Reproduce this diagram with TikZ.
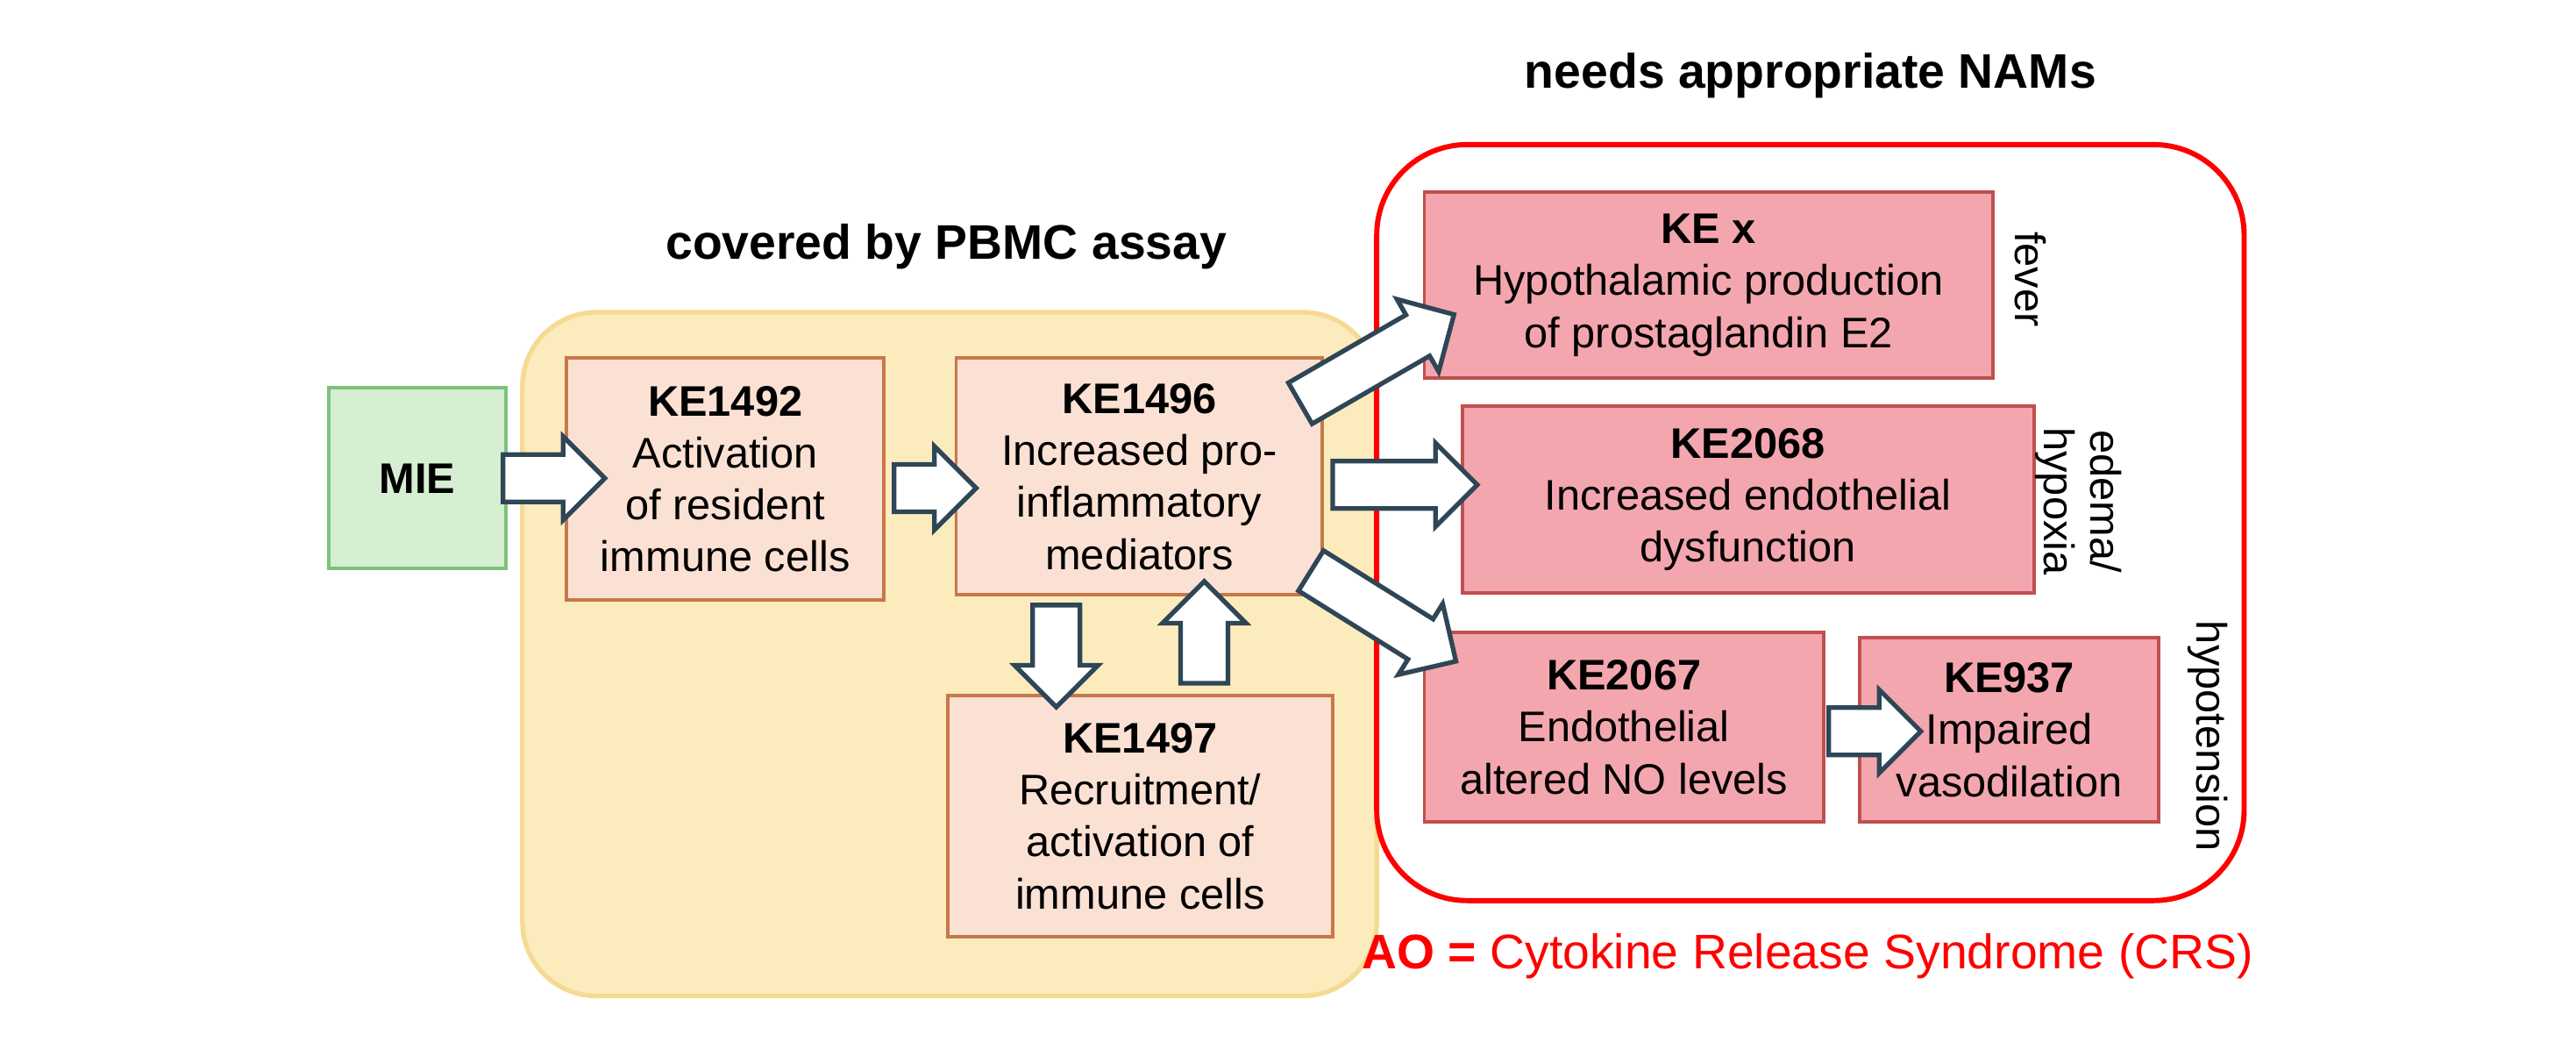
\documentclass[tikz,border=0pt]{standalone}
\usepackage{fontspec}
\setmainfont{Liberation Sans}
\usetikzlibrary{shapes.arrows}
\definecolor{ylfill}{HTML}{FCEBBD}
\definecolor{yldraw}{HTML}{F6DA92}
\definecolor{kefill}{HTML}{FBE1D4}
\definecolor{kedraw}{HTML}{C8774A}
\definecolor{rdfill}{HTML}{F4A6AF}
\definecolor{rddraw}{HTML}{C0504D}
\definecolor{grfill}{HTML}{D6EED2}
\definecolor{grdraw}{HTML}{7DC27A}
\definecolor{arrdraw}{HTML}{2E4656}
\definecolor{aored}{HTML}{FF0000}
\tikzset{
 txt/.style={font=\fontsize{7.4}{9}\selectfont, align=center},
 barrow/.style={single arrow, draw=arrdraw, fill=white, line width=0.8pt, inner sep=0.13cm, single arrow head extend=0.11cm, minimum width=0.5cm, shape border uses incircle=false},
}
\begin{document}
\begin{tikzpicture}[x=0.01cm,y=-0.01cm]
\useasboundingbox (0,0) rectangle (1568,634);
\fill[white] (0,0) rectangle (1568,634);
% containers
\draw[draw=yldraw, fill=ylfill, line width=0.8pt, rounded corners=0.45cm] (318,190) rectangle (838,606);
\draw[draw=aored, line width=0.9pt, rounded corners=0.55cm] (838,88) rectangle (1366,548);
% titles
\node[txt, font=\fontsize{8.4}{10}\selectfont\bfseries] (t1) at (576,150) {covered by PBMC assay};
\node[txt, font=\fontsize{8.4}{10}\selectfont\bfseries] (t2) at (1102,46) {needs appropriate NAMs};
\node[txt, font=\fontsize{8.4}{10}\selectfont, text=aored, anchor=east] (ao) at (1384,582) {\textbf{AO =} Cytokine Release Syndrome (CRS)};
% boxes
\draw[draw=grdraw, fill=grfill, line width=0.6pt] (200,236) rectangle (308,346);
\node[txt, font=\fontsize{7.4}{9}\selectfont\bfseries] (mie) at (254,291) {MIE};
\draw[draw=kedraw, fill=kefill, line width=0.6pt] (345,218) rectangle (538,365);
\node[txt] (k1492) at (441.5,291.5) {\textbf{KE1492}\\Activation\\of resident\\immune cells};
\draw[draw=kedraw, fill=kefill, line width=0.6pt] (582,218) rectangle (805,362);
\node[txt] (k1496) at (693.5,290) {\textbf{KE1496}\\Increased pro-\\inflammatory\\mediators};
\draw[draw=kedraw, fill=kefill, line width=0.6pt] (577,423) rectangle (811,570);
\node[txt] (k1497) at (694,496.5) {\textbf{KE1497}\\Recruitment/\\activation of\\immune cells};
\draw[draw=rddraw, fill=rdfill, line width=0.6pt] (867,117) rectangle (1213,230);
\node[txt] (kex) at (1040,173.5) {\textbf{KE x}\\Hypothalamic production\\of prostaglandin E2};
\draw[draw=rddraw, fill=rdfill, line width=0.6pt] (890,247) rectangle (1238,361);
\node[txt] (k2068) at (1064,304) {\textbf{KE2068}\\Increased endothelial\\dysfunction};
\draw[draw=rddraw, fill=rdfill, line width=0.6pt] (867,385) rectangle (1110,500);
\node[txt] (k2067) at (988.5,442.5) {\textbf{KE2067}\\Endothelial\\altered NO levels};
\draw[draw=rddraw, fill=rdfill, line width=0.6pt] (1132,388) rectangle (1314,500);
\node[txt] (k937) at (1223,444) {\textbf{KE937}\\Impaired\\vasodilation};
% side labels
\node[txt, rotate=-90] (fever) at (1236,170) {fever};
\node[txt, rotate=-90, font=\fontsize{7.4}{8}\selectfont] (edema) at (1265,305) {edema/\\hypoxia};
\node[txt, rotate=-90] (hypo) at (1344,448) {hypotension};
% block arrows
\node[barrow, minimum height=0.62cm] (a1) at (330,291) {};
\node[barrow, minimum height=0.5cm] (a2) at (562,297) {};
\node[barrow, minimum height=0.62cm, rotate=-90] (a3) at (643,392) {};
\node[barrow, minimum height=0.62cm, rotate=90] (a4) at (733,392) {};
\node[barrow, minimum height=1.08cm, rotate=30] (a5) at (832,222) {};
\node[barrow, minimum height=0.88cm] (a6) at (848,295) {};
\node[barrow, minimum height=1.04cm, rotate=-32] (a7) at (836,371) {};
\node[barrow, minimum height=0.56cm] (a8) at (1134,445) {};
\end{tikzpicture}
\end{document}
